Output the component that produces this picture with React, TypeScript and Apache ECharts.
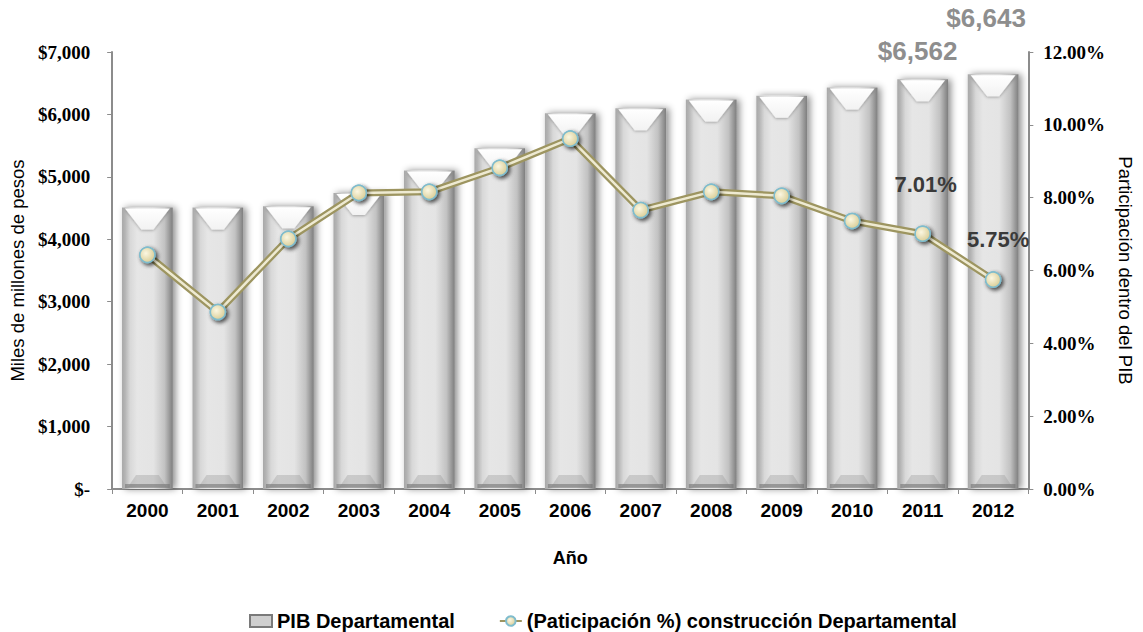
import React, { useEffect, useRef } from "react";
import * as echarts from "echarts";

const years = ["2000", "2001", "2002", "2003", "2004", "2005", "2006", "2007", "2008", "2009", "2010", "2011", "2012"];
const pibDepartamental = [4510, 4510, 4530, 4740, 5100, 5460, 6020, 6100, 6240, 6300, 6430, 6562, 6643];
const participacion = [6.43, 4.86, 6.87, 8.13, 8.16, 8.82, 9.62, 7.66, 8.16, 8.05, 7.36, 7.01, 5.75];
const barLabelIndices = [11, 12];
const lineLabelIndices = [11, 12];

const barName = "PIB Departamental";
const lineName = "(Paticipación %) construcción Departamental";

const fmtMoney = (v: number) => (v === 0 ? "$-" : "$" + v.toLocaleString("en-US"));

export default function App() {
  const ref = useRef<HTMLDivElement>(null);
  useEffect(() => {
    document.body.style.margin = "0";
    document.body.style.overflow = "hidden";
    const chart = echarts.init(ref.current!, null, { renderer: "svg" });

    const barLabelOffsets: Record<number, [number, number]> = { 11: [-5, 15], 12: [-7, 43] };
    const lineLabelPos: Record<number, { distance: number; dx: number }> = {
      11: { distance: 30, dx: 3 },
      12: { distance: 21, dx: 5 },
    };

    const barGradient = new echarts.graphic.LinearGradient(0, 0, 1, 0, [
      { offset: 0, color: "#a8a8a8" },
      { offset: 0.06, color: "#b4b4b4" },
      { offset: 0.16, color: "#d8d8d8" },
      { offset: 0.3, color: "#e6e6e6" },
      { offset: 0.62, color: "#e4e4e4" },
      { offset: 0.84, color: "#c2c2c2" },
      { offset: 1, color: "#7e7e7e" },
    ]);
    const topGradient = new echarts.graphic.LinearGradient(0, 0, 0, 1, [
      { offset: 0, color: "#ffffff" },
      { offset: 1, color: "#f2f2f2" },
    ]);
    const markerFill = new echarts.graphic.RadialGradient(0.4, 0.4, 0.7, [
      { offset: 0, color: "#fbf7e2" },
      { offset: 1, color: "#d6c98e" },
    ]);
    const markerStyle = {
      color: markerFill,
      borderColor: "#7fbccd",
      borderWidth: 1.5,
      shadowBlur: 4,
      shadowColor: "rgba(0,0,0,0.45)",
      shadowOffsetX: 2,
      shadowOffsetY: 2,
    };

    const option: any = {
      animation: false,
      backgroundColor: "#ffffff",
      grid: { left: 111, right: 112, top: 52, bottom: 143, containLabel: false },
      legend: {
        left: 244,
        top: 606,
        itemGap: 44,
        itemWidth: 22,
        itemHeight: 12,
        textStyle: { fontFamily: "Liberation Sans", fontWeight: "bold", fontSize: 20, color: "#000" },
        data: [{ name: barName, icon: "rect" }, { name: lineName }],
      },
      xAxis: {
        type: "category",
        data: years,
        name: "Año",
        nameLocation: "middle",
        nameGap: 60,
        nameTextStyle: { fontFamily: "Liberation Sans", fontWeight: "bold", fontSize: 18, color: "#000" },
        axisLine: { show: true, lineStyle: { color: "#8c8c8c", width: 2 } },
        axisTick: { show: true, length: 5, lineStyle: { color: "#8c8c8c" } },
        axisLabel: { margin: 12, fontFamily: "Liberation Sans", fontWeight: "bold", fontSize: 19, color: "#000" },
      },
      yAxis: [
        {
          type: "value",
          min: 0,
          max: 7000,
          interval: 1000,
          name: "Miles de millones de pesos",
          nameLocation: "middle",
          nameRotate: 90,
          nameGap: 84,
          nameTextStyle: { fontFamily: "Liberation Sans", fontSize: 18.5, color: "#000" },
          axisLine: { show: true, lineStyle: { color: "#8c8c8c", width: 2 } },
          axisTick: { show: true, length: 5, lineStyle: { color: "#8c8c8c" } },
          splitLine: { show: false },
          axisLabel: {
            margin: 22,
            formatter: (v: number) => fmtMoney(v),
            fontFamily: "Liberation Serif",
            fontWeight: "bold",
            fontSize: 19,
            color: "#000",
          },
        },
        {
          type: "value",
          min: 0,
          max: 12,
          interval: 2,
          name: "Participación dentro del PIB",
          nameLocation: "middle",
          nameRotate: -90,
          nameGap: 87,
          nameTextStyle: { fontFamily: "Liberation Sans", fontSize: 18.5, color: "#000" },
          axisLine: { show: true, lineStyle: { color: "#8c8c8c", width: 2 } },
          axisTick: { show: true, length: 5, lineStyle: { color: "#8c8c8c" } },
          splitLine: { show: false },
          axisLabel: {
            margin: 15,
            formatter: (v: number) => v.toFixed(2) + "%",
            fontFamily: "Liberation Serif",
            fontWeight: "bold",
            fontSize: 19,
            color: "#000",
          },
        },
      ],
      series: [
        {
          name: barName,
          type: "custom",
          yAxisIndex: 0,
          encode: { x: 0, y: 1 },
          itemStyle: { color: "#cfcfcf", borderColor: "#7a7a7a", borderWidth: 1 },
          data: years.map((_, i) => [i, pibDepartamental[i]]),
          renderItem: (params: any, api: any) => {
            const idx = params.dataIndex;
            const v = api.value(1);
            const top = api.coord([api.value(0), v]);
            const base = api.coord([api.value(0), 0]);
            const band = api.size([1, 0])[0];
            const w = band * 0.72;
            const cx = top[0];
            const x0 = cx - w / 2;
            const x1 = cx + w / 2;
            const y0 = top[1];
            const y1 = base[1];
            const children: any[] = [
              {
                type: "rect",
                shape: { x: x0, y: y0, width: w, height: y1 - y0 },
                style: {
                  fill: barGradient,
                  shadowBlur: 7,
                  shadowColor: "rgba(0,0,0,0.45)",
                  shadowOffsetX: 3,
                  shadowOffsetY: 0,
                },
              },
              {
                type: "polygon",
                shape: {
                  points: [
                    [x0 + 3, y0 + 1],
                    [x1 - 3, y0 + 1],
                    [cx + 6, y0 + 22],
                    [cx - 6, y0 + 22],
                  ],
                },
                style: { fill: topGradient, shadowBlur: 3, shadowColor: "rgba(0,0,0,0.3)", shadowOffsetY: 1 },
              },
              {
                type: "polygon",
                shape: {
                  points: [
                    [x0 + 6, y1 - 2],
                    [x1 - 6, y1 - 2],
                    [x1 - 14, y1 - 14],
                    [x0 + 14, y1 - 14],
                  ],
                },
                style: { fill: "rgba(150,150,150,0.35)" },
              },
              {
                type: "rect",
                shape: { x: x0 + 3, y: y1 - 5, width: w - 6, height: 4 },
                style: { fill: "rgba(110,110,110,0.55)" },
              },
            ];
            if (barLabelIndices.indexOf(idx) >= 0) {
              const off = barLabelOffsets[idx] || [0, 12];
              children.push({
                type: "text",
                x: cx + off[0],
                y: y0 - off[1],
                style: {
                  text: fmtMoney(v),
                  fill: "#8e8e8e",
                  font: 'bold 26px "Liberation Sans"',
                  align: "center",
                  verticalAlign: "bottom",
                },
              });
            }
            return { type: "group", children };
          },
          z: 1,
        },
        {
          name: lineName,
          type: "line",
          yAxisIndex: 1,
          data: participacion,
          symbol: "circle",
          symbolSize: 15,
          itemStyle: markerStyle,
          lineStyle: { color: "#9d9560", width: 7 },
          z: 2,
        },
        {
          name: "__inner",
          type: "line",
          yAxisIndex: 1,
          data: participacion,
          symbol: "none",
          silent: true,
          lineStyle: { color: "#eeead2", width: 2.5 },
          z: 3,
        },
        {
          name: "__marks",
          type: "line",
          yAxisIndex: 1,
          symbol: "circle",
          symbolSize: 15,
          lineStyle: { width: 0, opacity: 0 },
          itemStyle: markerStyle,
          data: participacion.map((p, i) =>
            lineLabelIndices.indexOf(i) >= 0
              ? {
                  value: p,
                  label: {
                    show: true,
                    position: "top",
                    distance: lineLabelPos[i].distance,
                    offset: [lineLabelPos[i].dx, 0],
                    formatter: (d: any) => Number(d.value).toFixed(2) + "%",
                    fontFamily: "Liberation Sans",
                    fontWeight: "bold",
                    fontSize: 22,
                    color: "#3a3a3a",
                  },
                }
              : p
          ),
          z: 4,
        },
      ],
    };
    chart.setOption(option);
    return () => chart.dispose();
  }, []);
  return <div ref={ref} style={{ width: 1143, height: 632 }} />;
}
